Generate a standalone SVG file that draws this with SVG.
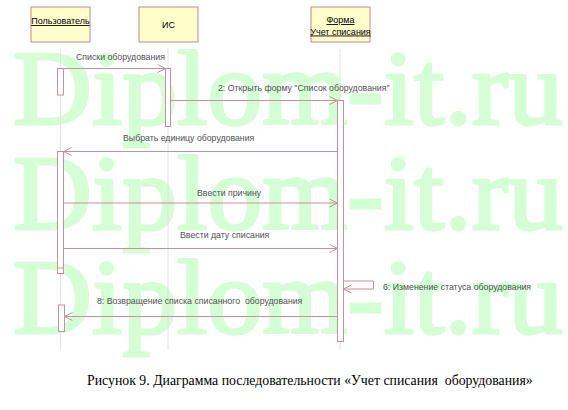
<svg xmlns="http://www.w3.org/2000/svg" width="568" height="410" viewBox="0 0 568 410">
<defs>
<marker id="ah" markerWidth="10" markerHeight="10" refX="9" refY="5" orient="auto" markerUnits="userSpaceOnUse">
<path d="M1,1 L9,5 L1,9" fill="none" stroke="#c8909c" stroke-width="1"/>
</marker>
<style>
.wm{font-family:"Liberation Serif","Times New Roman",serif;font-size:106px;fill:#d4fed4;stroke:#d4fed4;stroke-width:3;stroke-linejoin:round}
.obj{fill:#ffffcc;stroke:#c08890;stroke-width:1}
.on{font-family:"Liberation Sans",Arial,sans-serif;font-size:9px;fill:#000;text-anchor:middle}
.life{stroke:#e2e2e2;stroke-width:1;fill:none}
.act{fill:#fff;stroke:#c8909c;stroke-width:1}
.msg{stroke:#c8909c;stroke-width:1;fill:none}
.lbl{font-family:"Liberation Sans",Arial,sans-serif;font-size:8.75px;fill:#505050}
.cap{font-family:"Liberation Serif","Times New Roman",serif;font-size:13.8px;fill:#000}
</style>
</defs>
<rect width="568" height="410" fill="#fff"/>
<g id="watermark">
<text class="wm" x="13" y="124" textLength="550" lengthAdjust="spacingAndGlyphs">Diplom-it.ru</text>
<text class="wm" x="13" y="229" textLength="550" lengthAdjust="spacingAndGlyphs">Diplom-it.ru</text>
<text class="wm" x="13" y="333" textLength="550" lengthAdjust="spacingAndGlyphs">Diplom-it.ru</text>
</g>
<g id="lifelines">
<line class="life" x1="60.5" y1="49" x2="60.5" y2="350"/>
<line class="life" x1="168" y1="49" x2="168" y2="350"/>
<line class="life" x1="340" y1="49" x2="340" y2="350"/>
</g>
<g id="user">
<rect class="obj" x="31" y="7" width="59" height="35"/>
<text class="on" x="60.5" y="24" text-decoration="underline">Пользователь</text>
</g>
<g id="is">
<rect class="obj" x="139" y="7" width="59" height="35"/>
<text class="on" x="168.5" y="28">ИС</text>
</g>
<g id="form">
<rect class="obj" x="311" y="7" width="59" height="35"/>
<text class="on" x="340.5" y="23" text-decoration="underline">Форма</text>
<text class="on" x="340.5" y="34.5" text-decoration="underline">Учет списания</text>
</g>
<g id="activations">
<rect class="act" x="57.5" y="68.5" width="6" height="26.5"/>
<rect class="act" x="165.5" y="68.5" width="5" height="58"/>
<rect class="act" x="337.5" y="100.5" width="6" height="241"/>
<rect class="act" x="57.5" y="151.5" width="6" height="122"/>
<line class="msg" x1="57.5" y1="268" x2="63.5" y2="268"/>
<rect class="act" x="58.5" y="305" width="6" height="26.5"/>
</g>
<g id="connectors">
<line class="msg" x1="63.5" y1="68.5" x2="165.5" y2="68.5" marker-end="url(#ah)"/>
<line class="msg" x1="170.5" y1="100.5" x2="337.5" y2="100.5" marker-end="url(#ah)"/>
<line class="msg" x1="337.5" y1="151.5" x2="63.5" y2="151.5" marker-end="url(#ah)"/>
<line class="msg" x1="63.5" y1="203" x2="337.5" y2="203" marker-end="url(#ah)"/>
<line class="msg" x1="63.5" y1="248.5" x2="337.5" y2="248.5" marker-end="url(#ah)"/>
<polyline class="msg" points="343.5,281 373.5,281 373.5,289 343.5,289" marker-end="url(#ah)"/>
<line class="msg" x1="337.5" y1="316.5" x2="64.5" y2="316.5" marker-end="url(#ah)"/>
</g>
<g id="labels">
<text class="lbl" x="76" y="60">Списки оборудования</text>
<text class="lbl" x="218" y="91">2: Открыть форму "Список оборудования"</text>
<text class="lbl" x="123" y="140.5">Выбрать единицу оборудования</text>
<text class="lbl" x="197" y="195.5">Ввести причину</text>
<text class="lbl" x="180" y="238">Ввести дату списания</text>
<text class="lbl" x="383" y="290">6: Изменение статуса оборудования</text>
<text class="lbl" x="97" y="304" xml:space="preserve">8: Возвращение списка списанного  оборудования</text>
</g>
<text class="cap" x="87" y="385" xml:space="preserve">Рисунок 9. Диаграмма последовательности «Учет списания  оборудования»</text>
</svg>
